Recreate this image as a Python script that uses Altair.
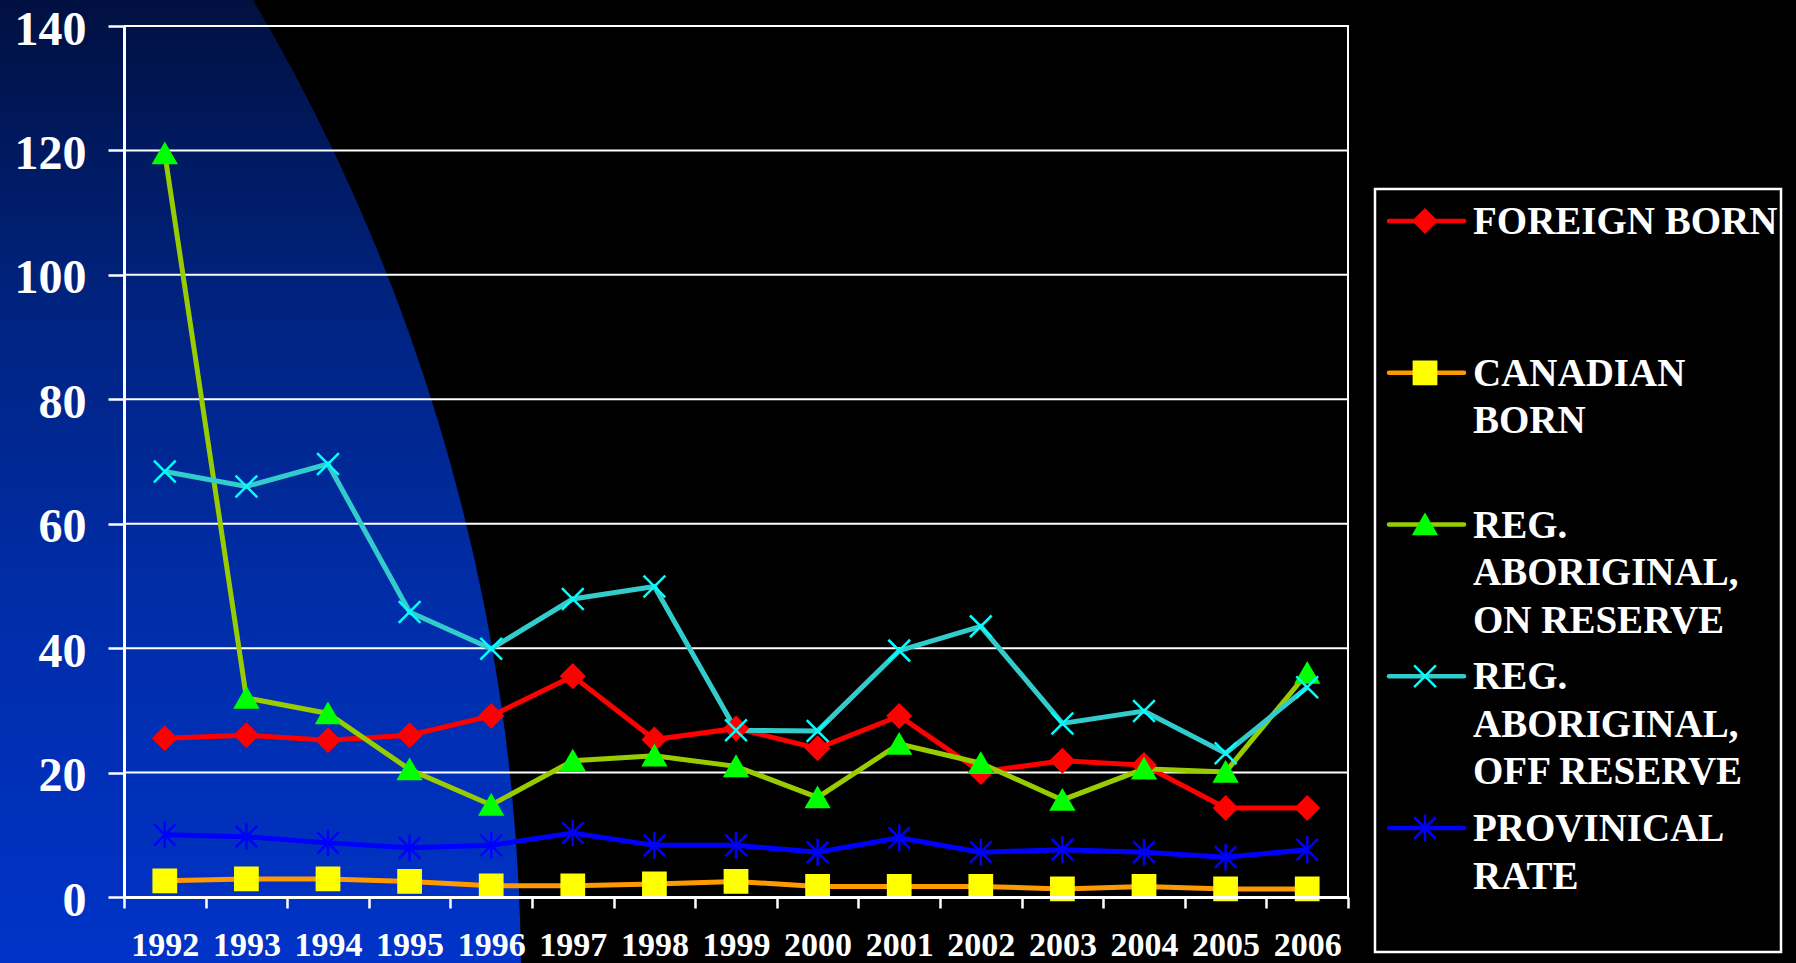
import altair as alt
import pandas as pd

# ---- data ----
years = [str(y) for y in range(1992, 2007)]
series = ["FOREIGN BORN", "CANADIAN BORN", "REG. ABORIGINAL, ON RESERVE",
          "REG. ABORIGINAL, OFF RESERVE", "PROVINICAL RATE"]
legend_labels = ["FOREIGN BORN", "CANADIAN\nBORN", "REG.\nABORIGINAL,\nON RESERVE",
                 "REG.\nABORIGINAL,\nOFF RESERVE", "PROVINICAL\nRATE"]
foreign_born = [25.5, 26.0, 25.2, 26.0, 29.1, 35.5, 25.3, 27.1, 23.9, 29.1, 20.1, 21.9, 21.2, 14.3, 14.3]
canadian_born = [2.6, 2.9, 2.9, 2.5, 1.8, 1.8, 2.1, 2.5, 1.7, 1.7, 1.7, 1.3, 1.7, 1.3, 1.3]
on_reserve = [119.5, 32.0, 29.5, 20.5, 14.8, 21.9, 22.7, 21.0, 16.0, 24.6, 21.5, 15.6, 20.6, 20.1, 36.0]
off_reserve = [68.4, 66.0, 69.6, 45.8, 39.9, 47.9, 49.9, 26.8, 26.7, 39.6, 43.5, 27.9, 29.9, 23.1, 33.7]
provincial = [10.0, 9.7, 8.7, 7.9, 8.3, 10.3, 8.3, 8.3, 7.2, 9.5, 7.2, 7.6, 7.2, 6.4, 7.6]
y_ticks = [0, 20, 40, 60, 80, 100, 120, 140]

# ---- styles ----
line_colors = ["#FF0000", "#FF9900", "#99CC00", "#33CCCC", "#0000FF"]
marker_fill = ["#FF0000", "#FFFF00", "#00FF00", "transparent", "transparent"]
marker_stroke = ["#FF0000", "#FFFF00", "#00FF00", "#00FFFF", "#0000FF"]
marker_shapes = ["diamond", "square", "triangle-up",
                 "M-1,-1L1,1M1,-1L-1,1",
                 "M-1,-1L1,1M1,-1L-1,1M0,-1.25L0,1.25"]
marker_sizes = [506, 462, 676, 729, 729]
FONT = "Liberation Serif"

values = [foreign_born, canadian_born, on_reserve, off_reserve, provincial]
rows = []
for s, vals in zip(series, values):
    for yr, v in zip(years, vals):
        rows.append({"year": yr, "series": s, "value": v})
df = pd.DataFrame(rows)
grid_df = pd.DataFrame({"value": y_ticks[1:]})
legend_df = pd.DataFrame({"series": series, "label": legend_labels})

W, H = 1224, 871

y_scale = alt.Scale(domain=[0, 140], nice=False, zero=True)
y_axis = alt.Axis(values=y_ticks, title=None, grid=False, zindex=1,
                  labelFont=FONT, labelFontSize=48, labelFontWeight="bold",
                  labelColor="white", tickColor="white", tickSize=16, tickWidth=2.5,
                  domainColor="white", domainWidth=3, labelPadding=22, labelOffset=4,
                  labelOverlap=False)
x_enc = alt.X("year:O", sort=years, bandPosition=0.5,
              scale=alt.Scale(type="band", domain=years, paddingInner=0, paddingOuter=0),
              axis=alt.Axis(title=None, labelAngle=0, tickBand="extent", grid=False, zindex=1,
                            labelFont=FONT, labelFontSize=34, labelFontWeight="bold",
                            labelColor="white", tickColor="white", tickSize=11, tickWidth=2.5,
                            domainColor="white", domainWidth=3, labelPadding=20,
                            labelOverlap=False))
y_enc = alt.Y("value:Q", scale=y_scale, axis=y_axis)

color_scale = alt.Scale(domain=series, range=line_colors)
fill_scale = alt.Scale(domain=series, range=marker_fill)
stroke_scale = alt.Scale(domain=series, range=marker_stroke)
shape_scale = alt.Scale(domain=series, range=marker_shapes)
size_scale = alt.Scale(domain=series, range=marker_sizes)

gradient = alt.Gradient(
    gradient="linear", x1=0, y1=0, x2=0, y2=1,
    stops=[alt.GradientStop(offset=0, color="#000830"),
           alt.GradientStop(offset=0.2456, color="#001040"),
           alt.GradientStop(offset=0.3235, color="#00237F"),
           alt.GradientStop(offset=0.4014, color="#002DA8"),
           alt.GradientStop(offset=0.4956, color="#0033C8"),
           alt.GradientStop(offset=1, color="#0033C8")])

# decorative background disc (size = side of bounding square squared)
bg = alt.Chart(alt.Data(values=[{}])).mark_circle(
    fill=gradient, opacity=1, strokeWidth=0, size=3852 * 3852
).encode(x=alt.value(-1529), y=alt.value(954))

grid = alt.Chart(grid_df).mark_rule(color="white", strokeWidth=2).encode(y=y_enc)

lines = alt.Chart(df).mark_line(strokeWidth=5).encode(
    x=x_enc,
    y=y_enc,
    color=alt.Color("series:N", scale=color_scale, legend=None),
    detail="series:N",
)

points = alt.Chart(df).mark_point(opacity=1, filled=False, strokeWidth=2.5).encode(
    x=x_enc,
    y=y_enc,
    shape=alt.Shape("series:N", scale=shape_scale, legend=None),
    fill=alt.Fill("series:N", scale=fill_scale, legend=None),
    stroke=alt.Stroke("series:N", scale=stroke_scale, legend=None),
    size=alt.Size("series:N", scale=size_scale, legend=None),
)

main = alt.layer(bg, grid, lines, points)

leg_y = alt.Y("series:N", sort=series, axis=None,
              scale=alt.Scale(type="point", domain=series, range=[195, 802], padding=0))

box = alt.Chart(alt.Data(values=[{}])).mark_rect(
    fill="transparent", stroke="white", strokeWidth=2.5
).encode(x=alt.value(1251), x2=alt.value(1657), y=alt.value(163), y2=alt.value(926))

leg_lines = alt.Chart(legend_df).mark_rule(strokeWidth=4.5, strokeCap="round").encode(
    x=alt.value(1265), x2=alt.value(1340), y=leg_y,
    color=alt.Color("series:N", scale=color_scale, legend=None))

leg_points = alt.Chart(legend_df).mark_point(opacity=1, filled=False, strokeWidth=2.5).encode(
    x=alt.value(1301), y=leg_y,
    shape=alt.Shape("series:N", scale=shape_scale, legend=None),
    fill=alt.Fill("series:N", scale=fill_scale, legend=None),
    stroke=alt.Stroke("series:N", scale=stroke_scale, legend=None),
    size=alt.Size("series:N", scale=size_scale, legend=None))

leg_text = alt.Chart(legend_df).mark_text(
    align="left", baseline="alphabetic", dy=13, lineBreak="\n", lineHeight=47.5,
    font=FONT, fontSize=39, fontWeight="bold", color="white"
).encode(x=alt.value(1349), y=leg_y, text="label:N")

legend = alt.layer(box, leg_lines, leg_points, leg_text)

chart = alt.layer(main, legend).resolve_scale(y="independent").properties(
    width=W, height=H,
    background="black",
    autosize=alt.AutoSizeParams(type="none"),
    padding={"left": 124, "top": 26, "right": 448, "bottom": 66},
).configure_view(stroke="white", strokeWidth=2, fill=None)

chart.save("out.html", embed_options={"renderer": "svg", "actions": False})
